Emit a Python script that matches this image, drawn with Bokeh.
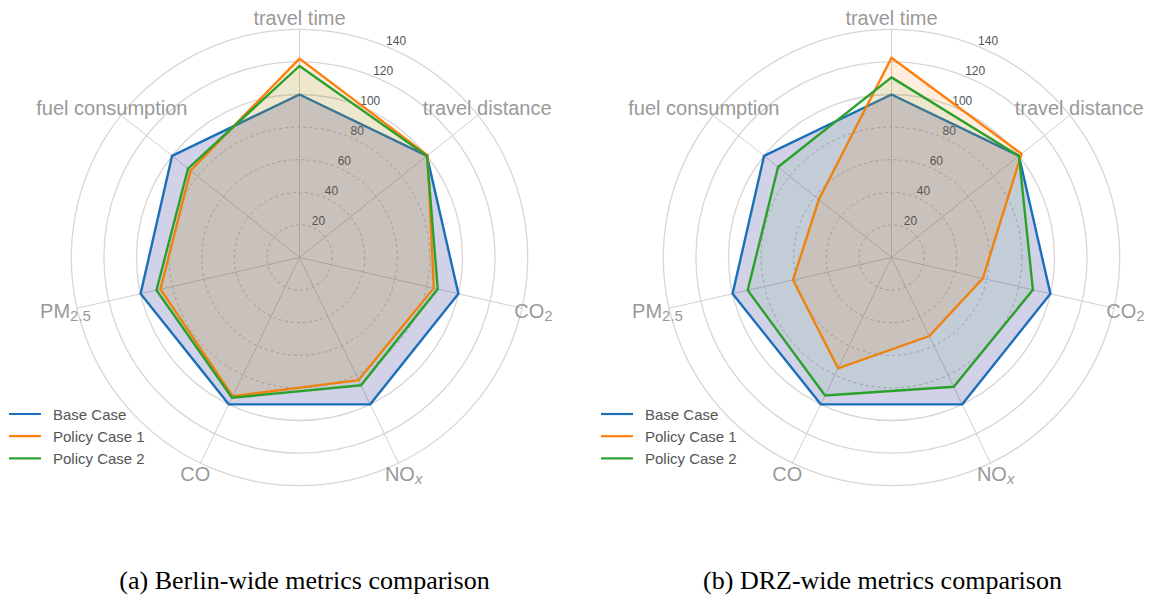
import math
from bokeh.plotting import figure
from bokeh.models import Range1d
from bokeh.core.properties import value
from bokeh.embed import file_html
from bokeh.resources import INLINE

# ---------------- data ----------------
categories = ["travel time", "travel distance", "CO", "NO", "CO", "PM", "fuel consumption"]
cat_subscripts = ["", "", "2", "x", "", "2.5", ""]
ring_values = [20, 40, 60, 80, 100, 120, 140]
series_names = ["Base Case", "Policy Case 1", "Policy Case 2"]

berlin_base = [100, 100, 100, 100, 100, 100, 100]
berlin_policy1 = [122, 100.5, 84.5, 83.5, 94.5, 87.5, 85.5]
berlin_policy2 = [117.5, 100, 87, 87, 95.5, 90, 87.5]

drz_base = [100, 100, 100, 100, 100, 100, 100]
drz_policy1 = [122.5, 102, 57.5, 53.5, 75.5, 62, 57]
drz_policy2 = [110.5, 100, 89, 88, 94, 90.5, 89]

captions = ["(a) Berlin-wide metrics comparison", "(b) DRZ-wide metrics comparison"]

# ---------------- style ----------------
W, H = 1151, 598
line_colors = ["#1a70b8", "#ff7f0e", "#2ca02c"]
fill_colors = ["#000080", "#ff7f0e", "#2ca02c"]
fill_alphas = [0.18, 0.14, 0.08]
SCALE = 1.63          # px per unit
LABEL_R = 240         # px
FONT = "Liberation Sans"

p = figure(width=W, height=H, x_range=Range1d(0, W), y_range=Range1d(H, 0),
           output_backend="svg", toolbar_location=None, min_border=0)
p.axis.visible = False
p.grid.visible = False
p.outline_line_color = None
p.background_fill_color = "white"

# Arial-like widths (em) for subscript placement
CW = {"C": 0.722, "O": 0.778, "P": 0.667, "M": 0.833, "N": 0.722,
      "2": 0.556, ".": 0.278, "5": 0.556, "x": 0.5}


def tw(s, size):
    return sum(CW.get(c, 0.55) for c in s) * size


def radar(cx, cy, series, caption, caption_x):
    n = len(categories)
    angles = [2 * math.pi * i / n for i in range(n)]
    # grid circles
    for v in ring_values:
        dashed = v < 100
        p.circle(x=[cx], y=[cy], radius=v * SCALE, fill_color=None,
                 line_color="#c4c4c4" if dashed else "#d6d6d6",
                 line_width=1 if dashed else 1.3,
                 line_dash="3 3" if dashed else "solid")
    # spokes
    rmax = ring_values[-1] * SCALE
    p.segment(x0=[cx] * n, y0=[cy] * n,
              x1=[cx + rmax * math.sin(a) for a in angles],
              y1=[cy - rmax * math.cos(a) for a in angles],
              line_color="#d0d0d0", line_width=1)
    # ring labels
    ra = math.radians(23.4)
    p.text(x=[cx + v * SCALE * math.sin(ra) + 6 for v in ring_values],
           y=[cy - v * SCALE * math.cos(ra) - 7.3 for v in ring_values],
           text=[str(v) for v in ring_values], text_font=value(FONT),
           text_font_size="12px", text_color="#555555",
           text_align="center", text_baseline="middle")
    # data polygons
    for k, vals in enumerate(series):
        xs = [cx + v * SCALE * math.sin(a) for v, a in zip(vals, angles)]
        ys = [cy - v * SCALE * math.cos(a) for v, a in zip(vals, angles)]
        p.patch(xs, ys, fill_color=fill_colors[k], fill_alpha=fill_alphas[k],
                line_color=line_colors[k], line_width=2.4, line_join="miter")
    # category labels
    for cat, sub, a in zip(categories, cat_subscripts, angles):
        lx = cx + LABEL_R * math.sin(a)
        ly = cy - LABEL_R * math.cos(a)
        if sub:
            wm = tw(cat, 20)
            ws = tw(sub, 15)
            x0 = lx - (wm + ws) / 2
            p.text(x=[x0], y=[ly], text=[cat], text_font=value(FONT),
                   text_font_size="20px", text_color="#999999",
                   text_align="left", text_baseline="middle")
            p.text(x=[x0 + wm], y=[ly + 5], text=[sub], text_font=value(FONT),
                   text_font_size="15px", text_color="#999999",
                   text_font_style="italic" if sub == "x" else "normal",
                   text_align="left", text_baseline="middle")
        else:
            p.text(x=[lx], y=[ly], text=[cat], text_font=value(FONT),
                   text_font_size="20px", text_color="#999999",
                   text_align="center", text_baseline="middle")
    # legend
    for k, name in enumerate(series_names):
        yy = cy + 156.5 + 22.2 * k
        p.line(x=[cx - 290.5, cx - 258.5], y=[yy, yy], line_color=line_colors[k],
               line_width=2.2)
        p.text(x=[cx - 246.5], y=[yy], text=[name], text_font=value(FONT),
               text_font_size="15px", text_color="#555555",
               text_align="left", text_baseline="middle")
    # caption
    p.text(x=[caption_x], y=[580], text=[caption],
           text_font=value("Liberation Serif"), text_font_size="26px",
           text_color="#000000", text_align="center", text_baseline="middle")


radar(299, 257, [berlin_base, berlin_policy1, berlin_policy2], captions[0], 304)
radar(891, 257, [drz_base, drz_policy1, drz_policy2], captions[1], 882)

open("out.html", "w").write(file_html(p, INLINE))
